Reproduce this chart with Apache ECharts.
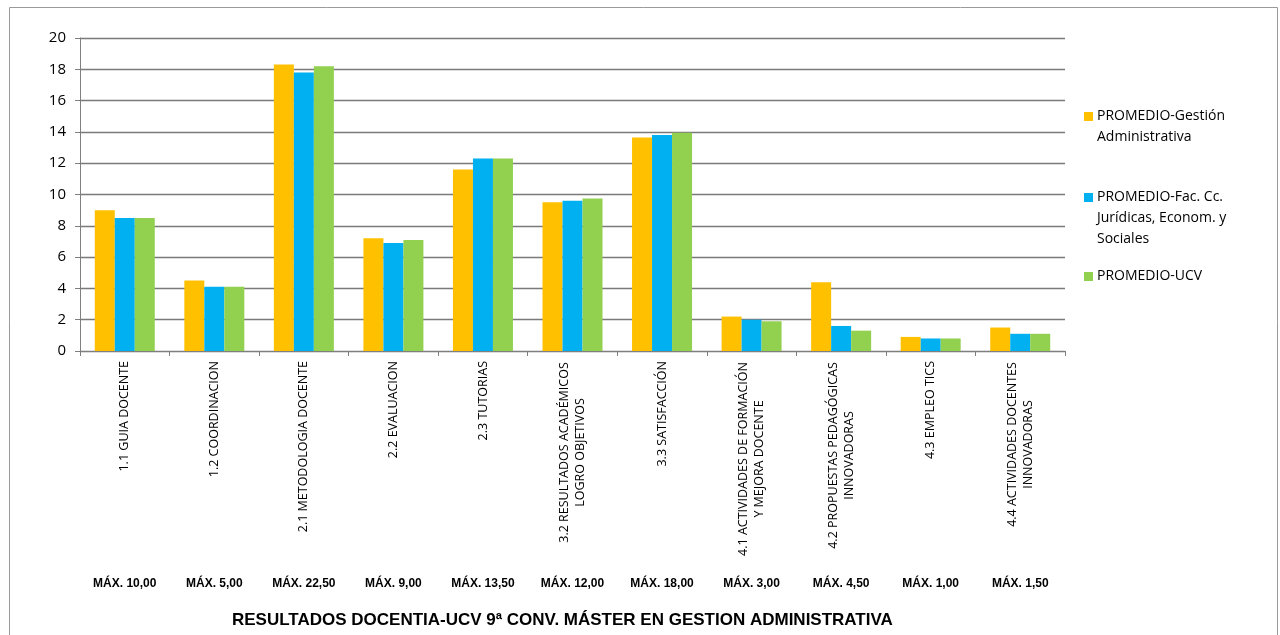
<!DOCTYPE html>
<html><head><meta charset="utf-8">
<script src="https://cdn.jsdelivr.net/npm/echarts@6/dist/echarts.min.js"></script>
<style>html,body{margin:0;padding:0;background:#fff}#c{width:1280px;height:635px}</style>
</head><body><div id="c"></div>
<script>
const categories = [
  "1.1 GUIA DOCENTE",
  "1.2 COORDINACION",
  "2.1 METODOLOGIA DOCENTE",
  "2.2 EVALUACION",
  "2.3 TUTORIAS",
  "3.2 RESULTADOS ACADÉMICOS\nLOGRO OBJETIVOS",
  "3.3 SATISFACCIÓN",
  "4.1 ACTIVIDADES DE FORMACIÓN\nY MEJORA DOCENTE",
  "4.2 PROPUESTAS PEDAGÓGICAS\nINNOVADORAS",
  "4.3 EMPLEO TICS",
  "4.4 ACTIVIDADES DOCENTES\nINNOVADORAS"
];
const maxLabels = ["MÁX. 10,00","MÁX. 5,00","MÁX. 22,50","MÁX. 9,00","MÁX. 13,50","MÁX. 12,00","MÁX. 18,00","MÁX. 3,00","MÁX. 4,50","MÁX. 1,00","MÁX. 1,50"];
const seriesNames = ["PROMEDIO-Gestión\nAdministrativa","PROMEDIO-Fac. Cc.\nJurídicas, Econom. y\nSociales","PROMEDIO-UCV"];
const gestion = [9.0, 4.5, 18.3, 7.2, 11.6, 9.5, 13.65, 2.2, 4.4, 0.9, 1.5];
const facultad = [8.5, 4.1, 17.8, 6.9, 12.3, 9.6, 13.8, 2.0, 1.6, 0.8, 1.1];
const ucv = [8.5, 4.1, 18.2, 7.1, 12.3, 9.75, 13.95, 1.9, 1.3, 0.8, 1.1];
const yTicks = [0, 2, 4, 6, 8, 10, 12, 14, 16, 18, 20];
const colors = ["#FFC000", "#00B0F0", "#92D050"];

const labelFamily = "'Open Sans', sans-serif";
const labelSize = 12.5;
const cv = document.createElement('canvas').getContext('2d');
cv.font = labelSize + "px " + labelFamily;
const rich = {};
const fmtMap = {};
categories.forEach((c, i) => {
  const lines = c.split('\n');
  if (lines.length > 1) {
    const w = Math.ceil(Math.max(...lines.map(l => cv.measureText(l).width))) + 2;
    rich['r' + i] = { width: w, align: 'center', fontFamily: labelFamily, fontSize: labelSize, color: '#000', lineHeight: 16 };
    fmtMap[c] = lines.map(l => '{r' + i + '|' + l + '}').join('\n');
  } else fmtMap[c] = c;
});

const chart = echarts.init(document.getElementById('c'));
const legendGraphics = [];
const legendPos = [117, 198, 277];
seriesNames.forEach((n, i) => {
  legendGraphics.push({ type: 'rect', shape: { x: 1084, y: legendPos[i] - 5, width: 9, height: 9 }, style: { fill: colors[i] } });
  legendGraphics.push({ type: 'text', x: 1097, y: legendPos[i] - 11, style: { text: n, fill: '#000', font: "14px 'Open Sans', sans-serif", lineHeight: 21 } });
});

chart.setOption({
  animation: false,
  textStyle: { fontFamily: labelFamily },
  grid: { left: 80, right: 215, top: 38, bottom: 284 },
  xAxis: [{
    type: 'category', data: categories,
    axisLine: { lineStyle: { color: '#7f7f7f', width: 1 } },
    axisTick: { show: true, length: 5, lineStyle: { color: '#7f7f7f' } },
    axisLabel: { rotate: 90, interval: 0, margin: 10, fontSize: labelSize, fontFamily: labelFamily, color: '#000', lineHeight: 16,
      formatter: v => fmtMap[v], rich: rich }
  }, {
    type: 'category', data: maxLabels, position: 'bottom', offset: 219,
    axisLine: { show: false }, axisTick: { show: false },
    axisLabel: { interval: 0, fontSize: 12, fontWeight: 'bold', color: '#000', fontFamily: "'Liberation Sans Narrow', 'Liberation Sans', sans-serif" }
  }],
  yAxis: {
    type: 'value', min: 0, max: 20, interval: 2,
    axisLine: { show: true, lineStyle: { color: '#7f7f7f' } },
    axisTick: { show: true, length: 5, lineStyle: { color: '#7f7f7f' } },
    axisLabel: { fontSize: 15, color: '#000', margin: 14, fontFamily: "'Open Sans', sans-serif",
      formatter: v => yTicks.includes(v) ? String(v) : '' },
    splitLine: { lineStyle: { color: '#7a7a7a', width: 1.3 } }
  },
  series: [
    { name: seriesNames[0], type: 'bar', data: gestion, itemStyle: { color: colors[0] }, barGap: '0%', barCategoryGap: '33%' },
    { name: seriesNames[1], type: 'bar', data: facultad, itemStyle: { color: colors[1] }, barGap: '0%', barCategoryGap: '33%' },
    { name: seriesNames[2], type: 'bar', data: ucv, itemStyle: { color: colors[2] }, barGap: '0%', barCategoryGap: '33%' }
  ],
  graphic: [
    { type: 'rect', silent: true, shape: { x: 9.5, y: 7.5, width: 1268, height: 640 }, style: { fill: null, stroke: '#9a9a9a', lineWidth: 1 } },
    { type: 'text', left: 232, top: 612, style: { text: 'RESULTADOS DOCENTIA-UCV 9ª CONV. MÁSTER EN GESTION ADMINISTRATIVA', fill: '#000', font: "bold 17px 'Liberation Sans Narrow', 'Liberation Sans', sans-serif" } },
    ...legendGraphics
  ]
});
</script></body></html>
